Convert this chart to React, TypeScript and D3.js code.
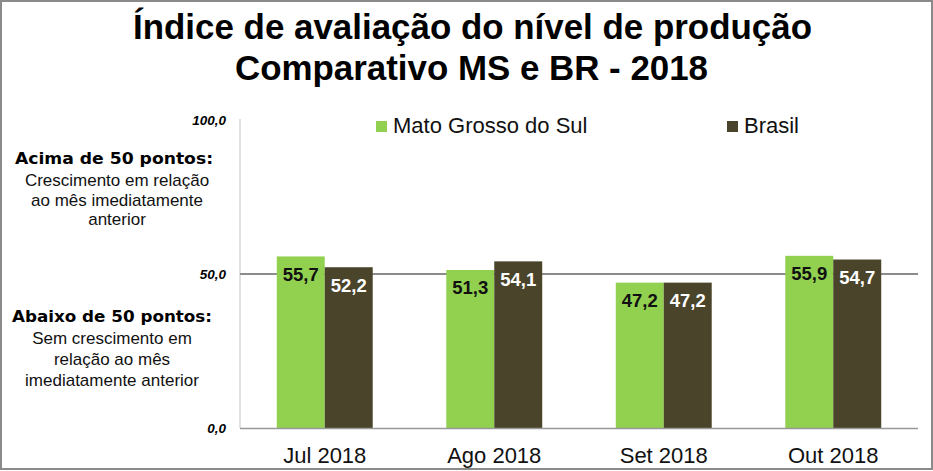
import React from "react";
import * as d3 from "d3";

const categories = ["Jul 2018", "Ago 2018", "Set 2018", "Out 2018"];
const seriesNames = ["Mato Grosso do Sul", "Brasil"];
const msValues = [55.7, 51.3, 47.2, 55.9];
const brValues = [52.2, 54.1, 47.2, 54.7];
const yTicks = [0, 50, 100];
const titleLines = ["Índice de avaliação do nível de produção", "Comparativo MS e BR - 2018"];
const aboveLines = ["Crescimento em relação", "ao mês imediatamente", "anterior"];
const belowLines = ["Sem crescimento em", "relação ao mês", "imediatamente anterior"];

const W = 933;
const H = 471;
const GREEN = "#92D050";
const DARK = "#4A442A";

export default function App() {
  const x0 = d3.scaleBand<string>().domain(categories).range([240, 918]).paddingInner(0.434).paddingOuter(0.217);
  const x1 = d3.scaleBand<string>().domain(["ms", "br"]).range([0, x0.bandwidth()]).padding(0);
  const y = d3.scaleLinear().domain([0, 100]).range([428, 120]);
  const fmt = (v: number) => v.toFixed(1).replace(".", ",");
  const series = [
    { key: "ms", values: msValues, color: GREEN, text: "#111" },
    { key: "br", values: brValues, color: DARK, text: "#fff" },
  ];
  const arial = "'Liberation Sans', Arial, sans-serif";
  return (
    <svg width={W} height={H} style={{ position: "absolute", left: 0, top: 0, background: "#fff" }}>
      <rect x={1} y={1} width={W - 2} height={H - 3} fill="#fff" stroke="#8a8a8a" strokeWidth={2} />
      {/* title */}
      <text x={472.5} y={39} textAnchor="middle" fontFamily="'Liberation Sans Narrow', 'Liberation Sans', Arial, sans-serif" fontWeight="bold" fontSize={35} textLength={679} lengthAdjust="spacingAndGlyphs" fill="#000">{titleLines[0]}</text>
      <text x={471.5} y={80} textAnchor="middle" fontFamily="'Liberation Sans Narrow', 'Liberation Sans', Arial, sans-serif" fontWeight="bold" fontSize={35} textLength={473} lengthAdjust="spacingAndGlyphs" fill="#000">{titleLines[1]}</text>
      {/* left annotations */}
      <text x={114} y={164} textAnchor="middle" fontFamily="'DejaVu Sans', Verdana, sans-serif" fontWeight="bold" fontSize={16} textLength={198} lengthAdjust="spacingAndGlyphs" fill="#000">Acima de 50 pontos:</text>
      {aboveLines.map((l, i) => (
        <text key={l} x={117} y={186 + i * 19.5} textAnchor="middle" fontFamily={arial} fontSize={17} fill="#111">{l}</text>
      ))}
      <text x={112} y={322} textAnchor="middle" fontFamily="'DejaVu Sans', Verdana, sans-serif" fontWeight="bold" fontSize={16} textLength={200} lengthAdjust="spacingAndGlyphs" fill="#000">Abaixo de 50 pontos:</text>
      {belowLines.map((l, i) => (
        <text key={l} x={112} y={344 + i * 20.8} textAnchor="middle" fontFamily={arial} fontSize={17} fill="#111">{l}</text>
      ))}
      {/* y axis */}
      <line x1={240} x2={240} y1={y(100) - 1} y2={y(0)} stroke="#c4c4c4" strokeWidth={1} />
      {yTicks.map((t) => (
        <text key={t} x={226} y={y(t) + 4.5} textAnchor="end" fontFamily={arial} fontWeight="bold" fontStyle="italic" fontSize={13.5} fill="#000">{fmt(t)}</text>
      ))}
      {/* 50 reference line */}
      <line x1={240} x2={918} y1={y(50)} y2={y(50)} stroke="#8c8c8c" strokeWidth={2} />
      {/* bars */}
      {categories.map((c, ci) => (
        <g key={c} transform={`translate(${x0(c)},0)`}>
          {series.map((s) => (
            <rect key={s.key} x={x1(s.key)} y={y(s.values[ci])} width={x1.bandwidth()} height={y(0) - y(s.values[ci])} fill={s.color} />
          ))}
          {series.map((s) => (
            <text key={s.key + "l"} x={(x1(s.key) as number) + x1.bandwidth() / 2} y={y(s.values[ci]) + 24.5} textAnchor="middle" fontFamily={arial} fontWeight="bold" fontSize={18.5} fill={s.text}>{fmt(s.values[ci])}</text>
          ))}
        </g>
      ))}
      {/* x axis */}
      <line x1={240} x2={918} y1={y(0) + 0.5} y2={y(0) + 0.5} stroke="#999" strokeWidth={1.5} />
      {categories.map((c) => (
        <text key={c} x={(x0(c) as number) + x0.bandwidth() / 2} y={463} textAnchor="middle" fontFamily={arial} fontSize={22} fill="#111">{c}</text>
      ))}
      {/* legend */}
      <rect x={376} y={121} width={11} height={11} fill={GREEN} />
      <text x={393} y={133} fontFamily={arial} fontSize={22} fill="#111">{seriesNames[0]}</text>
      <rect x={727} y={121} width={11} height={11} fill={DARK} />
      <text x={744} y={133} fontFamily={arial} fontSize={22} fill="#111">{seriesNames[1]}</text>
    </svg>
  );
}
